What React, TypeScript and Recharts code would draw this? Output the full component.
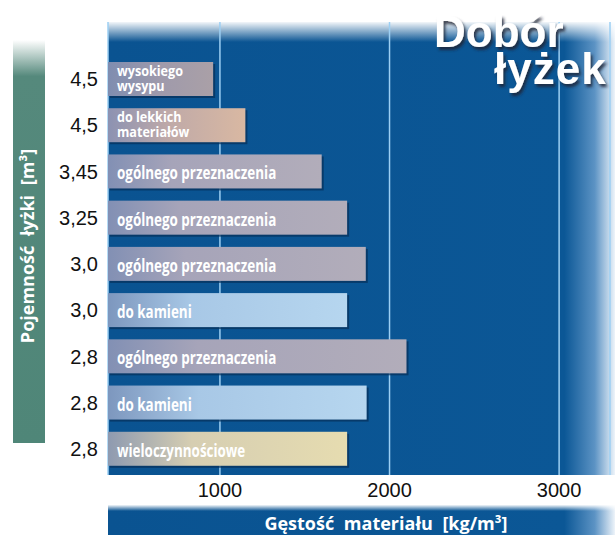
import { Bar, BarChart, CartesianGrid, LabelList, XAxis, YAxis } from 'recharts';

// pojemność łyżki [m3] (y axis labels, top to bottom)
const capacities = ['4,5', '4,5', '3,45', '3,25', '3,0', '3,0', '2,8', '2,8', '2,8'];
// typ łyżki (label inside the bar)
const bucketTypes = [
    'wysokiego\nwysypu',
    'do lekkich\nmateriałów',
    'ogólnego przeznaczenia',
    'ogólnego przeznaczenia',
    'ogólnego przeznaczenia',
    'do kamieni',
    'ogólnego przeznaczenia',
    'do kamieni',
    'wieloczynnościowe'
];
// max gęstość materiału [kg/m3]
const densities = [960, 1150, 1600, 1750, 1860, 1750, 2100, 1865, 1750];
const densityTicks = [1000, 2000, 3000];

const data = capacities.map((cap, i) => ({
    id      : i,
    cap     : cap,
    type    : bucketTypes[i],
    density : densities[i]
}));

const FILLS: Record<string, string> = {
    'wysokiego\nwysypu'      : 'url(#fillMauve)',
    'do lekkich\nmateriałów' : 'url(#fillPeach)',
    'do kamieni'             : 'url(#fillBlue)',
    'wieloczynnościowe'      : 'url(#fillCream)'
};

const BLUE = '#0b5796';

function BucketBar(props: any) {
    const { x, y, width, height, payload } = props;
    if (!width || width <= 0) return null;
    const fill = FILLS[payload.type] || 'url(#fillGray)';
    return (
        <g>
            <rect x={x + 2} y={y + 2} width={width} height={height} fill="#052f58" opacity={0.7} />
            <rect x={x} y={y} width={width} height={height} fill={fill} />
        </g>
    );
}

function BucketLabel(props: any) {
    const { x, y, height, value } = props;
    const lines = String(value).split('\n');
    const cy = y + height / 2;
    if (lines.length > 1) {
        // two lines in one text element
        return (
            <g transform={`translate(${x + 9},${cy}) scale(0.9,1)`}>
                <text x={0} y={-3} fill="#fff" fontFamily="'Open Sans', sans-serif" fontWeight={700} fontSize={14}>
                    <tspan x={0} y={-3}>{lines[0]}</tspan>
                    <tspan x={0} y={12}>{lines[1]}</tspan>
                </text>
            </g>
        );
    }
    return (
        <g transform={`translate(${x + 9},${cy + 8}) scale(0.79,1)`}>
            <text x={0} y={0} fill="#fff" fontFamily="'Open Sans', sans-serif" fontWeight={700} fontSize={17}>
                {value}
            </text>
        </g>
    );
}

export default function App() {
    return (
        <div style={{ position: 'absolute', left: 0, top: 0, width: 615, height: 535, background: '#fff', overflow: 'hidden' }}>
            {/* tło wykresu, pasek osi Y i pasek osi X */}
            <svg width={615} height={535} style={{ position: 'absolute', left: 0, top: 0 }}>
                <defs>
                    <linearGradient id="plotBg" x1="0" y1="0" x2="1" y2="0">
                        <stop offset="0" stopColor="#0a5391" />
                        <stop offset="0.9" stopColor={BLUE} />
                        <stop offset="0.96" stopColor="#5c93c4" />
                        <stop offset="1" stopColor="#eef4fa" />
                    </linearGradient>
                    <linearGradient id="topFade" x1="0" y1="0" x2="0" y2="1">
                        <stop offset="0" stopColor="#fff" stopOpacity={0.95} />
                        <stop offset="1" stopColor="#fff" stopOpacity={0} />
                    </linearGradient>
                    <linearGradient id="greenBar" x1="0" y1="0" x2="0" y2="1">
                        <stop offset="0" stopColor="#55897c" stopOpacity={0} />
                        <stop offset="0.09" stopColor="#55897c" stopOpacity={1} />
                        <stop offset="1" stopColor="#4f8678" />
                    </linearGradient>
                </defs>
                <rect x={108} y={22} width={507} height={453} fill="url(#plotBg)" />
                <rect x={108} y={22} width={507} height={20} fill="url(#topFade)" />
                <rect x={13} y={40} width={32} height={403} fill="url(#greenBar)" />
                <text
                    transform="rotate(-90, 34, 246)"
                    x={34}
                    y={246}
                    textAnchor="middle"
                    fill="#fff"
                    fontFamily="'Open Sans', sans-serif"
                    fontWeight={700}
                    fontSize={18}
                    style={{ wordSpacing: '5px' }}
                >
                    Pojemność łyżki [m³]
                </text>
                <rect x={108} y={505} width={507} height={30} fill="url(#plotBg)" />
                <rect x={108} y={505} width={507} height={6} fill="url(#topFade)" />
                <text
                    x={386}
                    y={530}
                    textAnchor="middle"
                    fill="#fff"
                    fontFamily="'Open Sans', sans-serif"
                    fontWeight={700}
                    fontSize={18}
                    style={{ wordSpacing: '5px' }}
                >
                    Gęstość materiału [kg/m³]
                </text>
            </svg>

            <div style={{ position: 'absolute', left: 0, top: 0 }}>
                <BarChart
                    width={615}
                    height={535}
                    data={data}
                    layout="vertical"
                    margin={{ top: 22, right: 5, bottom: 30, left: 8 }}
                >
                    <defs>
                        <linearGradient id="fillGray" x1="0" y1="0" x2="1" y2="0">
                            <stop offset="0" stopColor="#8290b4" />
                            <stop offset="0.3" stopColor="#a6a4b9" />
                            <stop offset="1" stopColor="#b2adba" />
                        </linearGradient>
                        <linearGradient id="fillMauve" x1="0" y1="0" x2="1" y2="0">
                            <stop offset="0" stopColor="#7f8db0" />
                            <stop offset="0.5" stopColor="#9f9aab" />
                            <stop offset="1" stopColor="#aaa0a7" />
                        </linearGradient>
                        <linearGradient id="fillPeach" x1="0" y1="0" x2="1" y2="0">
                            <stop offset="0" stopColor="#8c92b2" />
                            <stop offset="0.45" stopColor="#c0aaa8" />
                            <stop offset="1" stopColor="#d9b8a2" />
                        </linearGradient>
                        <linearGradient id="fillBlue" x1="0" y1="0" x2="1" y2="0">
                            <stop offset="0" stopColor="#7d97be" />
                            <stop offset="0.35" stopColor="#a8c8e6" />
                            <stop offset="1" stopColor="#b6d6ef" />
                        </linearGradient>
                        <linearGradient id="fillCream" x1="0" y1="0" x2="1" y2="0">
                            <stop offset="0" stopColor="#8e9ab0" />
                            <stop offset="0.35" stopColor="#d6ceb2" />
                            <stop offset="1" stopColor="#e6dcb0" />
                        </linearGradient>
                    </defs>
                    <CartesianGrid horizontal={false} stroke="#9ccff3" strokeWidth={1.5} />
                    <XAxis
                        type="number"
                        dataKey="density"
                        domain={[340, 3300]}
                        ticks={densityTicks}
                        axisLine={false}
                        tickLine={false}
                        height={30}
                        tick={{ fill: '#111', fontSize: 20, fontFamily: "'Liberation Sans', Arial, sans-serif" }}
                    />
                    <YAxis
                        type="category"
                        dataKey="id"
                        width={100}
                        axisLine={false}
                        tickLine={false}
                        tickMargin={4}
                        padding={{ top: 34, bottom: 3 }}
                        interval={0}
                        tickFormatter={(i: number) => capacities[i]}
                        tick={{ fill: '#111', fontSize: 20, fontFamily: "'Liberation Sans', Arial, sans-serif" }}
                    />
                    <Bar dataKey="density" barSize={34} isAnimationActive={false} shape={BucketBar}>
                        <LabelList dataKey="type" content={BucketLabel} />
                    </Bar>
                </BarChart>
            </div>

            {/* tytuł */}
            <svg width={615} height={535} style={{ position: 'absolute', left: 0, top: 0, pointerEvents: 'none' }}>
                <defs>
                    <filter id="titleShadow" x="-10%" y="-10%" width="130%" height="140%">
                        <feDropShadow dx={2} dy={3} stdDeviation={1.5} floodColor="#1b2736" floodOpacity={0.85} />
                    </filter>
                </defs>
                <text
                    filter="url(#titleShadow)"
                    fill="#fff"
                    fontFamily="'Liberation Sans', Arial, sans-serif"
                    fontWeight={700}
                    fontSize={44}
                >
                    <tspan x={434} y={47}>Dobór</tspan>
                    <tspan x={494} y={84} letterSpacing={1}>łyżek</tspan>
                </text>
            </svg>
        </div>
    );
}
